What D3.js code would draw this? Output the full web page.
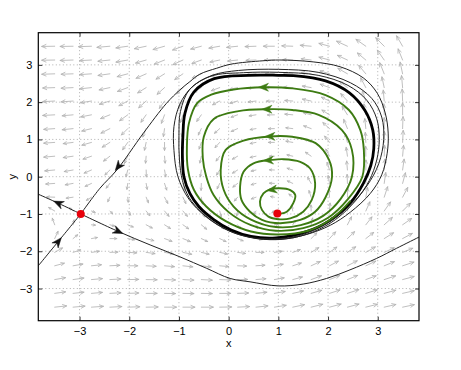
<!DOCTYPE html>
<html>
<head>
<meta charset="utf-8">
<script src="https://cdn.jsdelivr.net/npm/d3@7"></script>
<style>
body { margin: 0; background: #fff; }
svg { display: block; font-family: "Liberation Sans", Arial, sans-serif; }
</style>
</head>
<body>
<svg width="461" height="370"></svg>
<script>
// axis ticks
const xTicks = [-3, -2, -1, 0, 1, 2, 3];
const yTicks = [-3, -2, -1, 0, 1, 2, 3];

// quiver grid (columns left->right, rows top->bottom)
const gridX = [-3.5, -3.13, -2.76, -2.39, -2.03, -1.66, -1.29, -0.92, -0.55, -0.18, 0.18, 0.55, 0.92, 1.29, 1.66, 2.03, 2.39, 2.76, 3.13, 3.5];
const gridY = [3.5, 3.13, 2.76, 2.39, 2.03, 1.66, 1.29, 0.92, 0.55, 0.18, -0.18, -0.55, -0.92, -1.29, -1.66, -2.03, -2.39, -2.76, -3.13, -3.5];

// arrow direction on screen, degrees (0 = right, 90 = up)
const arrowAngle = [
  [181,181,182,185,188,192,196,200,195,190,186,182,180,178,175,165,155,145,135,120],
  [181,182,183,186,190,196,202,205,200,192,186,182,180,178,173,165,155,140,125,112],
  [182,182,184,188,195,204,212,215,205,196,190,184,180,177,172,163,150,130,112,102],
  [182,183,186,192,200,212,222,225,212,200,192,185,181,177,170,160,142,118,102,95],
  [183,184,189,197,208,222,235,240,225,208,196,187,181,176,168,155,132,108,95,92],
  [183,185,191,202,216,235,250,252,235,215,200,189,181,175,165,148,122,100,92,90],
  [184,186,194,207,225,248,262,262,245,222,204,190,181,173,160,138,112,96,90,88],
  [184,187,196,212,235,258,270,268,252,228,207,191,180,170,153,128,104,93,89,87],
  [185,188,199,218,245,265,275,272,258,233,210,192,180,167,145,118,98,91,88,85],
  [185,190,203,225,255,272,280,278,262,238,212,193,178,163,135,108,95,89,86,82],
  [184,190,205,232,262,280,288,285,268,245,218,195,177,155,120,100,92,86,82,75],
  [178,188,212,245,275,292,298,295,280,258,230,200,170,140,108,94,88,80,72,62],
  [150,140,340,315,305,308,310,310,300,285,260,235,215,100,92,86,78,66,55,45],
  [110,80,355,345,338,332,328,325,320,315,305,290,10,60,78,75,63,52,42,35],
  [65,40,10,0,350,345,340,338,335,335,338,350,5,28,45,48,44,38,32,28],
  [30,18,8,2,357,352,350,348,347,348,352,0,8,20,32,36,34,30,25,22],
  [15,10,6,3,0,357,355,354,354,355,358,4,10,18,25,28,27,25,22,18],
  [10,8,5,3,1,359,358,357,357,358,1,5,10,15,20,22,22,20,18,15],
  [8,6,5,3,2,0,359,359,359,0,2,6,10,13,16,18,18,17,15,13],
  [6,5,4,3,2,1,0,0,0,1,3,6,9,12,14,15,15,14,13,12]
];

// arrow length in pixels
const arrowLen = [
  [13,13,13,13,12,12,12,11,11,11,11,11,11,11,11,11,12,12,12,12],
  [13,13,12,12,12,11,11,11,10,10,10,10,10,10,10,11,11,11,12,12],
  [13,12,12,12,11,11,10,10,10,9,9,9,9,9,10,10,11,11,12,12],
  [12,12,12,11,11,10,10,9,9,9,8,8,8,9,9,10,10,11,11,12],
  [12,12,11,11,10,10,9,9,8,8,8,8,8,8,9,9,10,11,11,12],
  [12,11,11,10,10,9,9,8,8,7,7,7,7,8,8,9,10,11,11,12],
  [11,11,10,10,9,9,8,8,7,7,7,6,6,7,8,9,10,10,11,12],
  [11,10,10,9,9,8,8,7,7,7,6,6,6,7,7,8,9,10,11,12],
  [11,10,9,8,8,7,7,7,7,6,6,6,5,6,7,8,9,10,11,11],
  [10,9,8,7,7,7,7,7,7,6,6,5,5,6,7,8,9,10,11,11],
  [9,8,7,6,6,6,7,7,7,6,6,5,5,6,7,8,9,10,11,11],
  [8,7,6,5,5,6,7,7,7,6,5,5,4,5,7,8,9,10,11,11],
  [7,5,4,4,5,6,7,7,7,6,5,4,3,5,6,8,9,10,11,11],
  [7,5,4,5,6,7,7,7,7,6,5,4,4,5,7,8,9,10,11,11],
  [8,6,6,7,7,8,8,8,7,7,6,6,6,7,8,9,10,10,11,11],
  [9,8,8,8,9,9,9,9,8,8,8,8,8,8,9,9,10,11,11,11],
  [10,10,10,10,10,10,10,10,10,9,9,9,9,9,10,10,11,11,11,12],
  [11,11,11,11,11,11,11,11,11,11,10,10,10,10,11,11,11,11,12,12],
  [11,11,11,11,11,11,11,11,11,11,11,11,11,11,11,11,12,12,12,12],
  [12,12,12,12,12,12,12,12,12,12,12,12,12,12,12,12,12,12,12,12]
];

// equilibria
const equilibria = [[-2.976, -1.0], [0.98, -0.99]];

// separatrices of the saddle
const stableLow = [[-3.83, -2.39], [-3.43, -1.74], [-2.976, -1.0]];
const unstableUp = [[-2.976, -1.0], [-3.43, -0.71], [-3.83, -0.47]];
const unstableLow = [[-2.976, -1.0], [-2.22, -1.47], [-1.58, -1.83], [-0.98, -2.15], [-0.44, -2.46],
  [0.03, -2.73], [0.43, -2.82], [1.0, -2.93], [1.5, -2.88], [1.97, -2.73], [2.44, -2.5],
  [2.98, -2.19], [3.38, -1.92], [3.83, -1.62]];
const stableUp = [[-2.976, -1.0], [-2.59, -0.31], [-2.25, 0.18], [-1.72, 1.16], [-1.25, 1.97],
  [-0.98, 2.33], [-0.78, 2.55], [-0.58, 2.75], [-0.24, 2.91], [0.05, 3.02], [0.69, 3.11],
  [1.03, 3.13], [1.7, 3.08], [2.24, 2.95], [2.71, 2.65], [2.99, 2.24], [3.15, 1.71], [3.21, 1.17],
  [3.19, 0.63], [3.08, 0.05], [2.85, -0.45], [2.45, -0.95], [2.05, -1.3], [1.57, -1.55],
  [1.03, -1.68], [0.5, -1.64], [0.0, -1.45], [-0.45, -1.08], [-0.8, -0.6], [-1.02, 0.0],
  [-1.1, 0.7], [-1.1, 1.35], [-0.98, 1.95], [-0.74, 2.4], [-0.33, 2.72], [0.2, 2.85],
  [1.0, 2.88], [1.8, 2.8], [2.45, 2.52], [2.88, 2.1], [3.08, 1.6], [3.12, 1.0], [3.02, 0.35],
  [2.78, -0.25], [2.38, -0.85], [1.85, -1.35], [1.25, -1.63], [0.6, -1.66]];

// limit cycle (closed)
const cycleCore = [[1.0, 2.72], [0.4, 2.72], [-0.29, 2.63], [-0.7, 2.27], [-0.88, 1.7], [-0.92, 1.1],
  [-0.93, 0.5], [-0.9, 0.0], [-0.78, -0.45], [-0.6, -0.8], [-0.3, -1.15], [0.05, -1.43],
  [0.45, -1.6], [0.95, -1.64], [1.55, -1.48], [2.04, -1.17], [2.45, -0.7], [2.71, -0.18],
  [2.86, 0.3], [2.92, 0.75], [2.9, 1.25], [2.74, 1.78], [2.43, 2.25], [1.95, 2.57], [1.3, 2.71]];
const cycleThin = [[1.0, 2.8], [0.3, 2.79], [-0.35, 2.7], [-0.78, 2.35], [-0.97, 1.75], [-1.0, 1.1],
  [-0.99, 0.45], [-0.93, -0.1], [-0.8, -0.55], [-0.55, -0.95], [-0.2, -1.3], [0.2, -1.55],
  [0.7, -1.68], [1.2, -1.66], [1.7, -1.48], [2.15, -1.15], [2.55, -0.65], [2.83, -0.1],
  [2.98, 0.45], [3.03, 1.0], [2.98, 1.55], [2.78, 2.05], [2.4, 2.45], [1.8, 2.72]];

// green trajectory spiralling out of the focus
const spiral = [[1.05, -0.99], [1.17, -0.94], [1.30, -0.71], [1.34, -0.49], [1.24, -0.36], [1.03, -0.31],
  [0.83, -0.34], [0.70, -0.45], [0.63, -0.67], [0.67, -0.89], [0.80, -1.07], [1.0, -1.14], [1.24, -1.12],
  [1.50, -0.94], [1.67, -0.63], [1.74, -0.18], [1.64, 0.22], [1.44, 0.40], [1.10, 0.47], [0.87, 0.45],
  [0.50, 0.36], [0.30, 0.13], [0.23, -0.27], [0.26, -0.63], [0.43, -0.94], [0.67, -1.16], [1.03, -1.25],
  [1.44, -1.16], [1.74, -0.94], [1.95, -0.55], [2.08, 0.0], [2.02, 0.45], [1.75, 0.9], [1.28, 1.07],
  [0.83, 1.08], [0.3, 0.97], [-0.06, 0.72], [-0.16, 0.18], [-0.1, -0.35], [0.1, -0.8], [0.45, -1.15],
  [0.95, -1.35], [1.45, -1.3], [1.9, -1.05], [2.25, -0.6], [2.48, 0.0], [2.48, 0.72], [2.28, 1.25],
  [1.81, 1.66], [1.28, 1.79], [0.77, 1.81], [0.2, 1.76], [-0.3, 1.55], [-0.5, 1.07], [-0.52, 0.5],
  [-0.45, 0.0], [-0.3, -0.5], [0.0, -0.95], [0.45, -1.3], [0.95, -1.45], [1.5, -1.38], [2.0, -1.1],
  [2.4, -0.6], [2.69, 0.0], [2.72, 0.72], [2.65, 1.25], [2.42, 1.79], [1.95, 2.19], [1.28, 2.37],
  [0.7, 2.4], [0.1, 2.34], [-0.35, 2.2], [-0.63, 1.98], [-0.8, 1.43], [-0.84, 0.8], [-0.82, 0.2],
  [-0.7, -0.35], [-0.45, -0.8], [-0.05, -1.2], [0.45, -1.47], [1.0, -1.55], [1.6, -1.45],
  [2.1, -1.1], [2.45, -0.65]];

// arrowheads on trajectories: x, y, direction dx, dy (data units)
const greenHeads = [[0.87, -0.35, -1, -0.2], [0.80, 0.44, -1, -0.05], [0.83, 1.08, -1, -0.02],
  [0.77, 1.81, -1, 0], [0.70, 2.40, -1, 0]];
const blackHeads = [[-3.43, -1.74, 1, 1.65], [-2.22, 0.27, -1, -1.7], [-3.43, -0.71, -1, 0.6],
  [-2.22, -1.47, 1, -0.6]];

const svg = d3.select("svg");
const mLeft = 38.3, mRight = 419, mTop = 32.7, mBottom = 320.7;

const x = d3.scaleLinear().domain([-3.83, 3.83]).range([mLeft, mRight]);
const y = d3.scaleLinear().domain([-3.863, 3.863]).range([mBottom, mTop]);

svg.append("clipPath").attr("id", "plotclip")
  .append("rect").attr("x", mLeft).attr("y", mTop).attr("width", mRight - mLeft).attr("height", mBottom - mTop);

// dotted grid
const grid = svg.append("g").attr("stroke", "#9a9a9a").attr("stroke-width", 0.8)
  .attr("stroke-dasharray", "1,2.5");
grid.selectAll(".gx").data(xTicks).join("line").attr("class", "gx")
  .attr("x1", d => x(d)).attr("x2", d => x(d)).attr("y1", mTop).attr("y2", mBottom);
grid.selectAll(".gy").data(yTicks).join("line").attr("class", "gy")
  .attr("y1", d => y(d)).attr("y2", d => y(d)).attr("x1", mLeft).attr("x2", mRight);

// quiver field
const cells = [];
gridY.forEach((gy, j) => gridX.forEach((gx, i) => {
  cells.push({ gx, gy, a: arrowAngle[j][i] * Math.PI / 180, L: arrowLen[j][i] });
}));
const quiver = svg.append("g").attr("clip-path", "url(#plotclip)")
  .attr("stroke", "#b4b4b4").attr("stroke-width", 0.85).attr("fill", "none")
  .attr("stroke-linecap", "round");
quiver.selectAll("path").data(cells).join("path")
  .attr("d", d => {
    const x0 = x(d.gx), y0 = y(d.gy);
    const x1 = x0 + d.L * Math.cos(d.a), y1 = y0 - d.L * Math.sin(d.a);
    const h = Math.max(2.5, d.L * 0.36), s = 0.42;
    const hx1 = x1 - h * Math.cos(d.a - s), hy1 = y1 + h * Math.sin(d.a - s);
    const hx2 = x1 - h * Math.cos(d.a + s), hy2 = y1 + h * Math.sin(d.a + s);
    return `M${x0},${y0}L${x1},${y1}M${hx1},${hy1}L${x1},${y1}L${hx2},${hy2}`;
  });

const line = d3.line().x(d => x(d[0])).y(d => y(d[1])).curve(d3.curveCatmullRom.alpha(0.5));
const loop = d3.line().x(d => x(d[0])).y(d => y(d[1])).curve(d3.curveCatmullRomClosed.alpha(0.5));

const curves = svg.append("g").attr("clip-path", "url(#plotclip)").attr("fill", "none");
curves.append("path").attr("d", loop(cycleThin)).attr("stroke", "#222").attr("stroke-width", 1);
curves.append("path").attr("d", loop(cycleCore)).attr("stroke", "#000").attr("stroke-width", 2.8);
[stableLow, unstableUp, unstableLow, stableUp].forEach(c => {
  curves.append("path").attr("d", line(c)).attr("stroke", "#222").attr("stroke-width", 1);
});
curves.append("path").attr("d", line(spiral)).attr("stroke", "#3d7b12").attr("stroke-width", 1.9);

function head(g, d, color, len, wid) {
  const px = x(d[0]), py = y(d[1]);
  const ang = Math.atan2(-(y(d[1] + d[3] * 0.01) - py), x(d[0] + d[2] * 0.01) - px);
  const ux = Math.cos(ang), uy = -Math.sin(ang);
  const nx = -uy, ny = ux;
  const pts = [
    [px + ux * len * 0.5, py + uy * len * 0.5],
    [px - ux * len * 0.5 + nx * wid, py - uy * len * 0.5 + ny * wid],
    [px - ux * len * 0.2, py - uy * len * 0.2],
    [px - ux * len * 0.5 - nx * wid, py - uy * len * 0.5 - ny * wid]
  ];
  g.append("path").attr("d", "M" + pts.map(p => p.join(",")).join("L") + "Z")
    .attr("fill", color).attr("stroke", color).attr("stroke-width", 0.5);
}
const heads = svg.append("g");
greenHeads.forEach(d => head(heads, d, "#3d7b12", 10, 4));
blackHeads.forEach(d => head(heads, d, "#111", 10, 4));

// equilibrium points
svg.append("g").selectAll("circle").data(equilibria).join("circle")
  .attr("cx", d => x(d[0])).attr("cy", d => y(d[1])).attr("r", 4)
  .attr("fill", "#e8000b");

// axes frame with inward ticks on all sides
const fmt = d3.format("d");
const bAxis = svg.append("g").attr("transform", `translate(0,${mBottom})`)
  .call(d3.axisBottom(x).tickValues(xTicks).tickSize(-4).tickPadding(7).tickFormat(fmt));
const tAxis = svg.append("g").attr("transform", `translate(0,${mTop})`)
  .call(d3.axisTop(x).tickValues(xTicks).tickSize(-4).tickFormat(""));
const lAxis = svg.append("g").attr("transform", `translate(${mLeft},0)`)
  .call(d3.axisLeft(y).tickValues(yTicks).tickSize(-4).tickPadding(6).tickFormat(fmt));
const rAxis = svg.append("g").attr("transform", `translate(${mRight},0)`)
  .call(d3.axisRight(y).tickValues(yTicks).tickSize(-4).tickFormat(""));
[bAxis, tAxis, lAxis, rAxis].forEach(g => {
  g.select(".domain").remove();
  g.selectAll("line").attr("stroke", "#000").attr("stroke-width", 0.8);
  g.selectAll("text").attr("font-size", 11).attr("font-family", "Liberation Sans, Arial, sans-serif").attr("fill", "#000");
});
svg.append("rect").attr("x", mLeft).attr("y", mTop).attr("width", mRight - mLeft).attr("height", mBottom - mTop)
  .attr("fill", "none").attr("stroke", "#000").attr("stroke-width", 1.2);

svg.append("text").attr("x", (mLeft + mRight) / 2).attr("y", 347).attr("text-anchor", "middle")
  .attr("font-size", 11).text("x");
svg.append("text").attr("transform", `translate(16,${(mTop + mBottom) / 2}) rotate(-90)`)
  .attr("text-anchor", "middle").attr("font-size", 11).text("y");
</script>
</body>
</html>
